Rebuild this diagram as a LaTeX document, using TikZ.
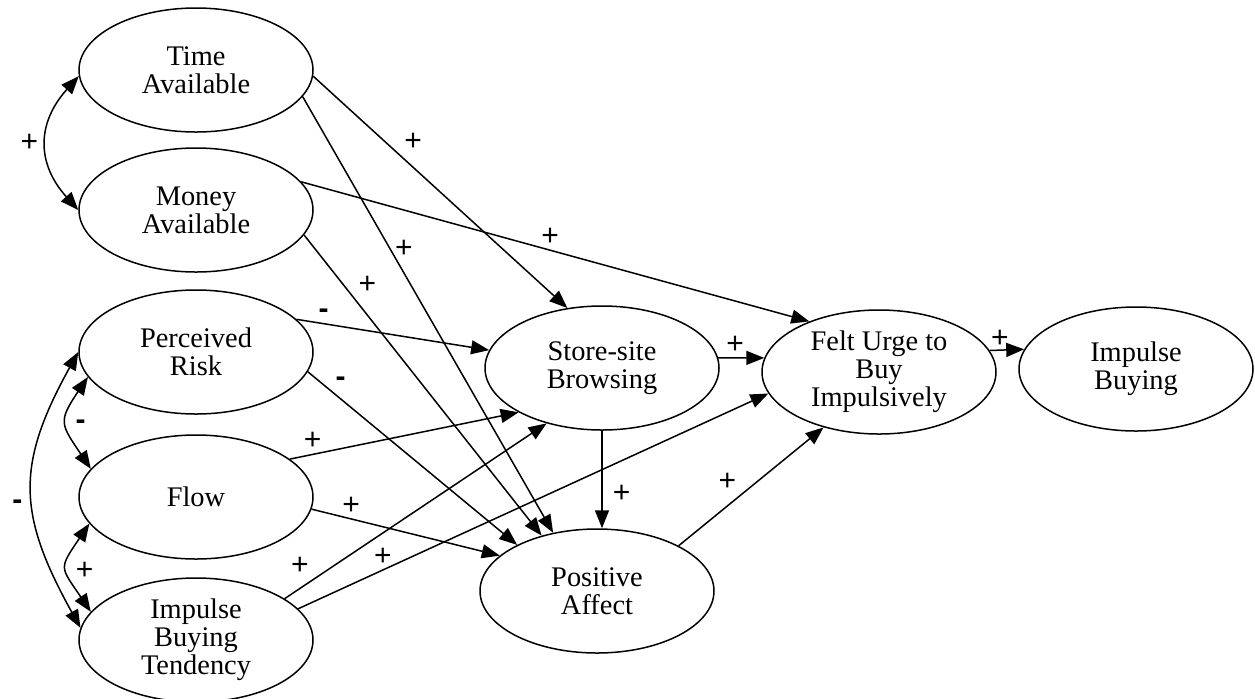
\documentclass[tikz,border=0pt]{standalone}
\usepackage{fontspec}
\setmainfont{Liberation Serif}
\newfontfamily\signfont{Liberation Sans}
\usetikzlibrary{arrows.meta, shapes.geometric, positioning}

\begin{document}
\begin{tikzpicture}[x=0.5pt, y=-0.5pt, line width=0.75pt, >={Triangle[length=9pt, width=7pt]}]
    	\tikzstyle{construct}=[ellipse, draw=black, minimum width=117pt, minimum height=62pt, inner sep=0pt, align=center, font=\fontsize{14.2}{14}\selectfont];
    	\tikzstyle{sign}=[font=\signfont\fontsize{15}{15}\selectfont, inner sep=2pt];

    	\useasboundingbox (0, 0) rectangle (1255, 698);

   	\node (time) at (196, 70) [construct] {Time\\Available};
   	\node (money) at (196, 210) [construct] {Money\\Available};
   	\node (risk) at (196, 352) [construct] {Perceived\\Risk};
   	\node (flow) at (196, 497) [construct] {Flow};
   	\node (ibt) at (196, 640) [construct] {Impulse\\Buying\\Tendency};
   	\node (browse) at (602, 368) [construct] {Store-site\\Browsing};
   	\node (affect) at (597, 591) [construct] {Positive\\Affect};
   	\node (urge) at (879, 372) [construct] {Felt Urge to\\Buy\\Impulsively};
   	\node (buy) at (1136, 369) [construct] {Impulse\\Buying};

    	% correlations
    	\draw (time.183) edge[<->, out=228, in=132, looseness=1.2] node [sign, left, inner sep=4pt] {+} (money.180);
    	\draw (risk.193) edge[<->, out=236, in=124, looseness=1.5] node [sign, pos=0.52, right, inner sep=4pt] {\bfseries -} (flow.165);
    	\draw (flow.194) edge[<->, out=236, in=124, looseness=1.6] node [sign, pos=0.55, right, inner sep=4pt] {+} (ibt.165);
    	\draw (risk.180) edge[<->, out=241, in=119, looseness=1.2] node [sign, pos=0.56, left, inner sep=5pt] {\bfseries -} (ibt.174);

    	% paths
   	\draw (time.357) edge[->] node [sign, pos=0.34, above right] {+} (browse.120);
   	\draw (time.346) edge[->] node [sign, pos=0.35, right] {+} (affect.127);
   	\draw (money.15) edge[->] node [sign, pos=0.49, above] {+} (urge.144);
   	\draw (money.347) edge[->] node [sign, pos=0.21, above right] {+} (affect.135);
   	\draw (risk.18) edge[->] node [sign, pos=0.14, above] {\bfseries -} (browse.171);
   	\draw (risk.350) edge[->] node [sign, pos=0.11, above right] {\bfseries -} (affect.150);
   	\draw (flow.22) edge[->] node [sign, pos=0.1, above] {+} (browse.208);
   	\draw (flow.354) edge[->] node [sign, pos=0.21, above] {+} (affect.160);
   	\draw (ibt.25) edge[->] node [sign, pos=0.11, above left] {+} (browse.225);
   	\draw (ibt.17) edge[->] node [sign, pos=0.18, above] {+} (urge.191);

   	\draw (browse.5) edge[->] node [sign, pos=0.37, above] {+} (urge.173);
   	\draw (browse.south) edge[->] node [sign, pos=0.65, right, inner sep=5pt] {+} (browse.south |- affect.north);
   	\draw (affect.29) edge[->] node [sign, pos=0.43, above left] {+} (urge.225);
   	\draw (urge.11) edge[->] node [sign, pos=0.3, above, inner sep=1pt] {+} (buy.170);

\end{tikzpicture}
\end{document}
